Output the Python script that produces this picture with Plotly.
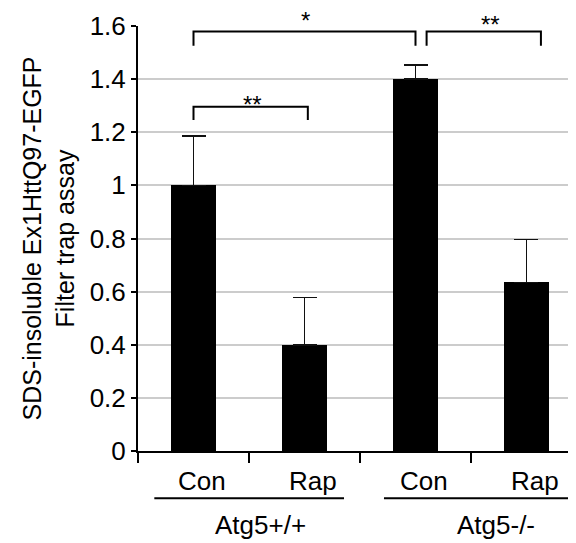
import plotly.graph_objects as go

# ---- data ----
categories = ["Con", "Rap", "Con", "Rap"]
groups = ["Atg5+/+", "Atg5-/-"]
values = [1.0, 0.40, 1.40, 0.635]
errors_up = [0.186, 0.177, 0.053, 0.162]
y_ticks = [0, 0.2, 0.4, 0.6, 0.8, 1, 1.2, 1.4, 1.6]
y_tick_labels = ["0", "0.2", "0.4", "0.6", "0.8", "1", "1.2", "1.4", "1.6"]

# significance brackets
bracket_left = [0.0, 0.0, 2.1]
bracket_right = [1.03, 2.0, 3.13]
bracket_top = [1.296, 1.579, 1.579]
bracket_bottom = [1.246, 1.526, 1.526]
bracket_labels = ["**", "*", "**"]
bracket_label_x = [0.53, 1.01, 2.68]
bracket_label_y = [1.305, 1.62, 1.605]

# group underline spans and label positions
group_left = [-0.353, 1.716]
group_right = [1.356, 3.383]
group_label_x = [0.6, 2.725]

FONT = "Liberation Sans, Arial, sans-serif"
xpos = list(range(len(categories)))
ymax = y_ticks[-1]

fig = go.Figure()
fig.add_trace(go.Bar(
    x=xpos, y=values, width=0.405,
    marker=dict(color="black", line=dict(width=0)),
    error_y=dict(type="data", array=errors_up, arrayminus=[0] * len(values),
                 symmetric=False, color="#111111", thickness=1.5, width=12),
    showlegend=False, hoverinfo="skip",
))

# brackets
for xl, xr, yt, yb in zip(bracket_left, bracket_right, bracket_top, bracket_bottom):
    fig.add_trace(go.Scatter(
        x=[xl, xl, xr, xr], y=[yb, yt, yt, yb], mode="lines",
        line=dict(color="black", width=2), showlegend=False, hoverinfo="skip",
        cliponaxis=False,
    ))
for lx, ly, lt in zip(bracket_label_x, bracket_label_y, bracket_labels):
    fig.add_annotation(x=lx, y=ly / ymax, xref="x", yref="y domain", text=lt,
                       showarrow=False, font=dict(size=24, color="black", family=FONT),
                       xanchor="center", yanchor="middle")

# group underlines and labels (below the axis)
for gl, gr in zip(group_left, group_right):
    fig.add_shape(type="line", xref="x", yref="paper", x0=gl, x1=gr,
                  y0=-0.111, y1=-0.111, line=dict(color="black", width=2))
for gx, gt in zip(group_label_x, groups):
    fig.add_annotation(x=gx, y=-0.174, xref="x", yref="paper", text=gt,
                       showarrow=False, font=dict(size=26, color="black", family=FONT),
                       xanchor="center", yanchor="middle")

# invisible trace on overlay axis for category labels
fig.add_trace(go.Scatter(x=[0], y=[0], xaxis="x2", mode="markers",
                         marker=dict(opacity=0), showlegend=False, hoverinfo="skip"))

xrange = [-0.5, 3.446]
# the page body adds an 8px offset, so the figure is 8px smaller and margins shifted
fig.update_layout(
    width=568, height=535,
    margin=dict(l=130, r=0, t=18, b=92, autoexpand=False),
    paper_bgcolor="white", plot_bgcolor="white",
    font=dict(family=FONT, size=26, color="black"),
    bargap=0,
    xaxis=dict(
        range=xrange, tickvals=[-0.5, 0.5, 1.5, 2.5, 3.5], ticktext=["", "", "", "", ""],
        ticks="outside", ticklen=10, tickwidth=2, tickcolor="black",
        showline=True, linecolor="black", linewidth=2, showgrid=False, zeroline=False,
        automargin=False,
    ),
    xaxis2=dict(
        range=xrange, overlaying="x", anchor="y", side="bottom",
        tickvals=[p + 0.075 for p in xpos], ticktext=categories,
        ticks="", showline=False, showgrid=False, zeroline=False,
        tickfont=dict(size=26, family=FONT, color="black"), ticklabelstandoff=12,
        automargin=False,
    ),
    yaxis=dict(
        range=[0, ymax], tickvals=y_ticks, ticktext=y_tick_labels,
        ticks="outside", ticklen=5, tickwidth=2, tickcolor="black",
        showline=True, linecolor="black", linewidth=2,
        showgrid=True, gridcolor="#cccccc", gridwidth=1.5, zeroline=False,
        tickfont=dict(size=26, family=FONT, color="black"),
        automargin=False,
        title=dict(text="SDS-insoluble Ex1HttQ97-EGFP<br>Filter trap assay",
                   font=dict(size=25, family=FONT, color="black"), standoff=8),
    ),
)

fig.write_html("out.html")
